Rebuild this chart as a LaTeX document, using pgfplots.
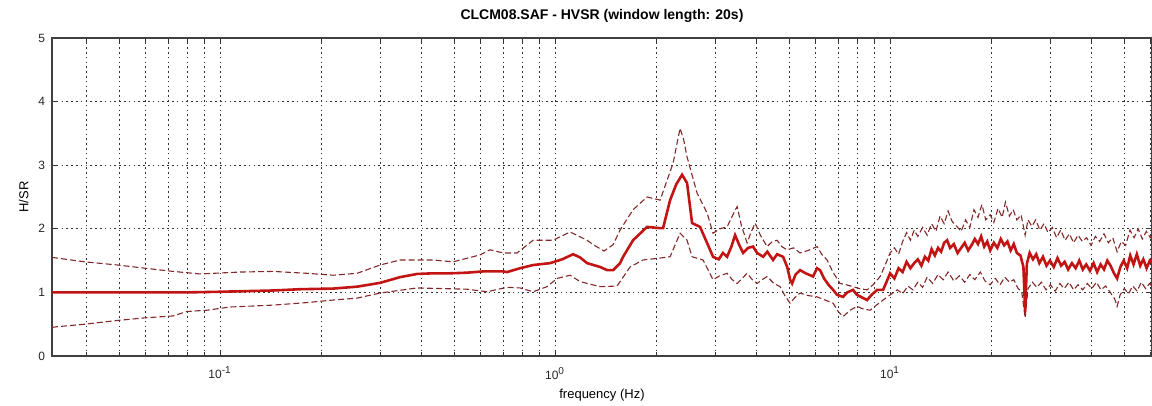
\documentclass[border=0pt]{standalone}
\usepackage{pgfplots}
\pgfplotsset{compat=1.18}
\usepackage{fontspec}
\setmainfont{Liberation Sans}
\definecolor{meanred}{RGB}{195,20,20}
\definecolor{stdred}{RGB}{130,40,40}

\begin{document}
\begin{tikzpicture}
\begin{axis}[
  at={(0,0)}, anchor=south west,
  scale only axis, width=550pt, height=159pt,
  xmode=log, log basis x=10,
  xmin=0.0315, xmax=60.5, ymin=0, ymax=5,
  xtick={0.1,1,10},
  xticklabels={10\textsuperscript{-1},10\textsuperscript{0},10\textsuperscript{1}},
  minor xtick={0.04,0.05,0.06,0.07,0.08,0.09,0.2,0.3,0.4,0.5,0.6,0.7,0.8,0.9,2,3,4,5,6,7,8,9,20,30,40,50,60},
  ytick={0,1,2,3,4,5},
  /pgf/number format/assume math mode=true,
  minor y tick num=0,
  grid=both,
  major grid style={black!80, line width=0.35pt, dash pattern=on 0.8pt off 1.6pt},
  minor grid style={black!80, line width=0.35pt, dash pattern=on 0.8pt off 1.6pt},
  tick align=inside,
  major tick length=3pt, minor tick length=2pt,
  tick style={black!80, line width=0.4pt},
  axis line style={black!75, line width=0.6pt},
  ticklabel style={font=\fontsize{6}{7}\selectfont, black!85},
  xticklabel style={yshift=-2pt},
  title={CLCM08.SAF - HVSR (window length: 20s)},
  title style={font=\fontsize{7}{8}\selectfont\bfseries, yshift=-2pt},
  xlabel={frequency (Hz)},
  xlabel style={font=\fontsize{6.5}{7.5}\selectfont, yshift=2pt},
  ylabel={H/SR},
  ylabel style={font=\fontsize{6.5}{7.5}\selectfont, yshift=-2pt},
  clip=true,
]
% lower (mean - std)
\addplot[stdred, line width=0.55pt, dash pattern=on 3pt off 1.5pt] coordinates {
(0.0315,0.45) (0.0326,0.46) (0.0395,0.50) (0.0496,0.56) (0.0597,0.60) (0.0724,0.63) (0.0797,0.70) (0.0915,0.72) (0.1071,0.77) (0.144,0.80) (0.1818,0.84) (0.2175,0.88) (0.2564,0.91) (0.3004,0.99) (0.3874,1.07) (0.5461,1.05) (0.6266,1.01) (0.7189,1.08) (0.7861,1.07) (0.8599,1.01) (0.9465,1.09) (1.014,1.22) (1.109,1.27) (1.187,1.17) (1.362,1.09) (1.531,1.10) (1.675,1.40) (1.831,1.51) (2.058,1.54) (2.204,1.56) (2.361,1.93) (2.477,1.82) (2.564,1.56) (2.765,1.51)
(2.962,1.20) (3.10,1.26) (3.262,1.30) (3.38,1.20) (3.494,1.14) (3.62,1.22) (3.742,1.30) (3.88,1.20) (4.009,1.14) (4.15,1.20) (4.295,1.25) (4.50,1.14) (4.695,1.09) (4.85,0.95) (5.029,0.83) (5.20,0.92) (5.386,0.99) (5.70,0.95) (6.055,0.93) (6.40,0.88) (6.76,0.83) (7.00,0.70) (7.24,0.62) (7.60,0.72) (7.97,0.78) (8.30,0.74) (8.72,0.72) (9.10,0.80) (9.53,0.88)
(10.0,0.96) (10.5,1.04) (10.9,0.98) (11.3,1.10) (11.7,1.04) (12.1,1.16) (12.5,1.08) (12.9,1.24) (13.4,1.14) (13.9,1.28) (14.4,1.20) (14.9,1.32) (15.5,1.18) (16.1,1.26) (16.7,1.16) (17.3,1.28) (17.9,1.20) (18.6,1.32) (19.2,1.18) (19.9,1.12) (20.6,1.22) (21.3,1.12) (22.0,1.24) (22.7,1.16) (23.4,1.20) (24.1,1.06) (24.7,1.02) (25.3,0.60) (25.8,1.06) (26.6,1.16) (27.4,1.08) (28.3,1.16) (29.2,1.04) (30.1,1.12) (31.1,1.02) (32.1,1.14) (33.1,1.06) (34.2,1.16) (35.3,1.04) (36.4,1.12) (37.6,1.04) (38.8,1.14) (40.0,1.06) (41.3,1.16) (42.6,1.04) (44.0,1.10) (45.4,1.00) (46.8,0.90) (47.6,0.78) (48.6,0.96) (50.0,1.06) (51.5,0.98) (53.0,1.10) (54.6,1.02) (56.2,1.16) (57.9,1.06) (59.5,1.14) (61.0,1.08)
};
% upper (mean + std)
\addplot[stdred, line width=0.55pt, dash pattern=on 3pt off 1.5pt] coordinates {
(0.0315,1.55) (0.0326,1.54) (0.0395,1.48) (0.0496,1.43) (0.0597,1.38) (0.0724,1.33) (0.0872,1.29) (0.1147,1.32) (0.144,1.33) (0.1818,1.30) (0.2175,1.27) (0.2564,1.30) (0.3004,1.43) (0.3446,1.51) (0.4323,1.51) (0.496,1.48) (0.5973,1.59) (0.6397,1.67) (0.6994,1.62) (0.7701,1.62) (0.8599,1.82) (0.9863,1.82) (1.109,1.95) (1.246,1.82) (1.30,1.75) (1.40,1.65) (1.49,1.75) (1.563,1.98) (1.709,2.30) (1.882,2.50) (2.058,2.45) (2.25,3.03) (2.361,3.58) (2.42,3.40) (2.477,3.13) (2.654,2.56) (2.842,2.25)
(2.962,1.93) (3.10,2.00) (3.262,2.03) (3.38,2.20) (3.494,2.35) (3.60,2.05) (3.742,1.78) (3.85,1.95) (3.954,2.09) (4.10,1.90) (4.295,1.72) (4.45,1.80) (4.599,1.82) (4.75,1.72) (4.926,1.67) (5.15,1.70) (5.386,1.62) (5.70,1.66) (6.055,1.72) (6.25,1.60) (6.485,1.51) (6.75,1.32) (7.09,1.14) (7.40,1.12) (7.75,1.09) (8.10,1.06) (8.54,1.04) (8.90,1.12) (9.34,1.25) (9.70,1.45)
(10.0,1.62) (10.3,1.70) (10.6,1.60) (10.9,1.80) (11.2,1.94) (11.5,1.82) (11.8,1.98) (12.1,1.88) (12.5,2.02) (12.9,1.90) (13.3,2.08) (13.7,1.96) (14.1,2.20) (14.5,2.08) (14.9,2.28) (15.3,2.12) (15.8,2.04) (16.3,1.96) (16.8,2.14) (17.3,2.02) (17.8,2.30) (18.3,2.18) (18.8,2.38) (19.3,2.14) (19.9,2.22) (20.4,2.10) (21.0,2.32) (21.6,2.18) (22.1,2.42) (22.7,2.20) (23.3,2.30) (23.9,2.14) (24.6,2.22) (25.3,1.90) (25.8,2.14) (26.5,2.04) (27.2,2.14) (28.0,1.98) (28.8,2.08) (29.6,1.94) (30.5,2.02) (31.4,1.86) (32.3,1.98) (33.3,1.82) (34.3,1.92) (35.3,1.78) (36.4,1.90) (37.5,1.80) (38.6,1.86) (39.8,1.74) (41.0,1.88) (42.2,1.80) (43.5,1.92) (44.8,1.78) (46.2,1.86) (47.6,1.64) (49.0,1.80) (50.5,1.74) (52.0,1.98) (53.5,1.86) (55.0,2.00) (56.6,1.84) (58.2,1.96) (59.8,1.86) (61.0,1.92)
};
% mean
\addplot[meanred, line width=1.3pt] coordinates {
(0.0315,1.00) (0.05,1.00) (0.08,1.00) (0.1,1.01) (0.144,1.03) (0.1733,1.05) (0.2175,1.06) (0.2564,1.09) (0.3004,1.15) (0.3446,1.24) (0.3874,1.29) (0.4323,1.30) (0.4859,1.30) (0.5461,1.31) (0.6098,1.33) (0.6994,1.33) (0.7189,1.32) (0.7861,1.38) (0.8599,1.43) (0.9663,1.46) (1.05,1.52) (1.132,1.60) (1.187,1.55) (1.246,1.46) (1.362,1.40) (1.43,1.35) (1.49,1.35) (1.563,1.46) (1.596,1.56) (1.709,1.82) (1.882,2.03) (2.058,2.01) (2.101,2.01) (2.204,2.45) (2.30,2.70) (2.394,2.85) (2.477,2.72) (2.564,2.09) (2.709,2.03)
(2.962,1.56) (3.08,1.52) (3.17,1.62) (3.262,1.56) (3.36,1.72) (3.446,1.90) (3.55,1.74) (3.641,1.62) (3.77,1.70) (3.899,1.72) (4.009,1.62) (4.178,1.56) (4.30,1.64) (4.474,1.51) (4.60,1.60) (4.793,1.56) (4.93,1.40) (5.03,1.20) (5.099,1.14) (5.22,1.28) (5.386,1.35) (5.60,1.30) (5.89,1.25) (6.05,1.38) (6.18,1.35) (6.35,1.22) (6.55,1.12) (6.76,1.04) (6.95,0.96) (7.24,0.93) (7.45,1.00) (7.75,1.04) (7.97,0.96) (8.25,0.92) (8.54,0.88) (8.80,0.96) (9.15,1.04) (9.53,1.04) (9.75,1.16)
(10.0,1.30) (10.3,1.22) (10.6,1.38) (10.9,1.32) (11.2,1.48) (11.5,1.38) (11.8,1.46) (12.1,1.52) (12.4,1.42) (12.7,1.56) (13.0,1.50) (13.3,1.68) (13.6,1.58) (13.9,1.70) (14.2,1.64) (14.5,1.78) (14.8,1.82) (15.1,1.70) (15.5,1.76) (15.9,1.62) (16.3,1.70) (16.7,1.78) (17.1,1.66) (17.5,1.74) (17.9,1.84) (18.3,1.76) (18.7,1.88) (19.1,1.72) (19.5,1.80) (19.9,1.66) (20.4,1.78) (20.9,1.70) (21.4,1.84) (21.9,1.74) (22.4,1.80) (22.9,1.66) (23.4,1.76) (23.9,1.62) (24.5,1.58) (25.0,1.40) (25.3,0.70) (25.6,1.45) (26.1,1.62) (26.7,1.52) (27.3,1.60) (27.9,1.46) (28.6,1.56) (29.3,1.42) (30.0,1.50) (30.8,1.40) (31.6,1.54) (32.4,1.42) (33.2,1.48) (34.0,1.36) (34.9,1.46) (35.8,1.38) (36.7,1.50) (37.6,1.36) (38.5,1.44) (39.5,1.34) (40.5,1.46) (41.5,1.32) (42.5,1.44) (43.5,1.36) (44.5,1.50) (45.5,1.42) (46.6,1.30) (47.6,1.22) (48.7,1.40) (49.8,1.50) (51.0,1.38) (52.1,1.58) (53.3,1.44) (54.5,1.60) (55.8,1.42) (57.0,1.52) (58.3,1.38) (59.6,1.50) (61.0,1.46)
};
\end{axis}
\pgfresetboundingbox
\path[use as bounding box] (-26pt,-25pt) rectangle (550pt,178pt);
\end{tikzpicture}
\end{document}
